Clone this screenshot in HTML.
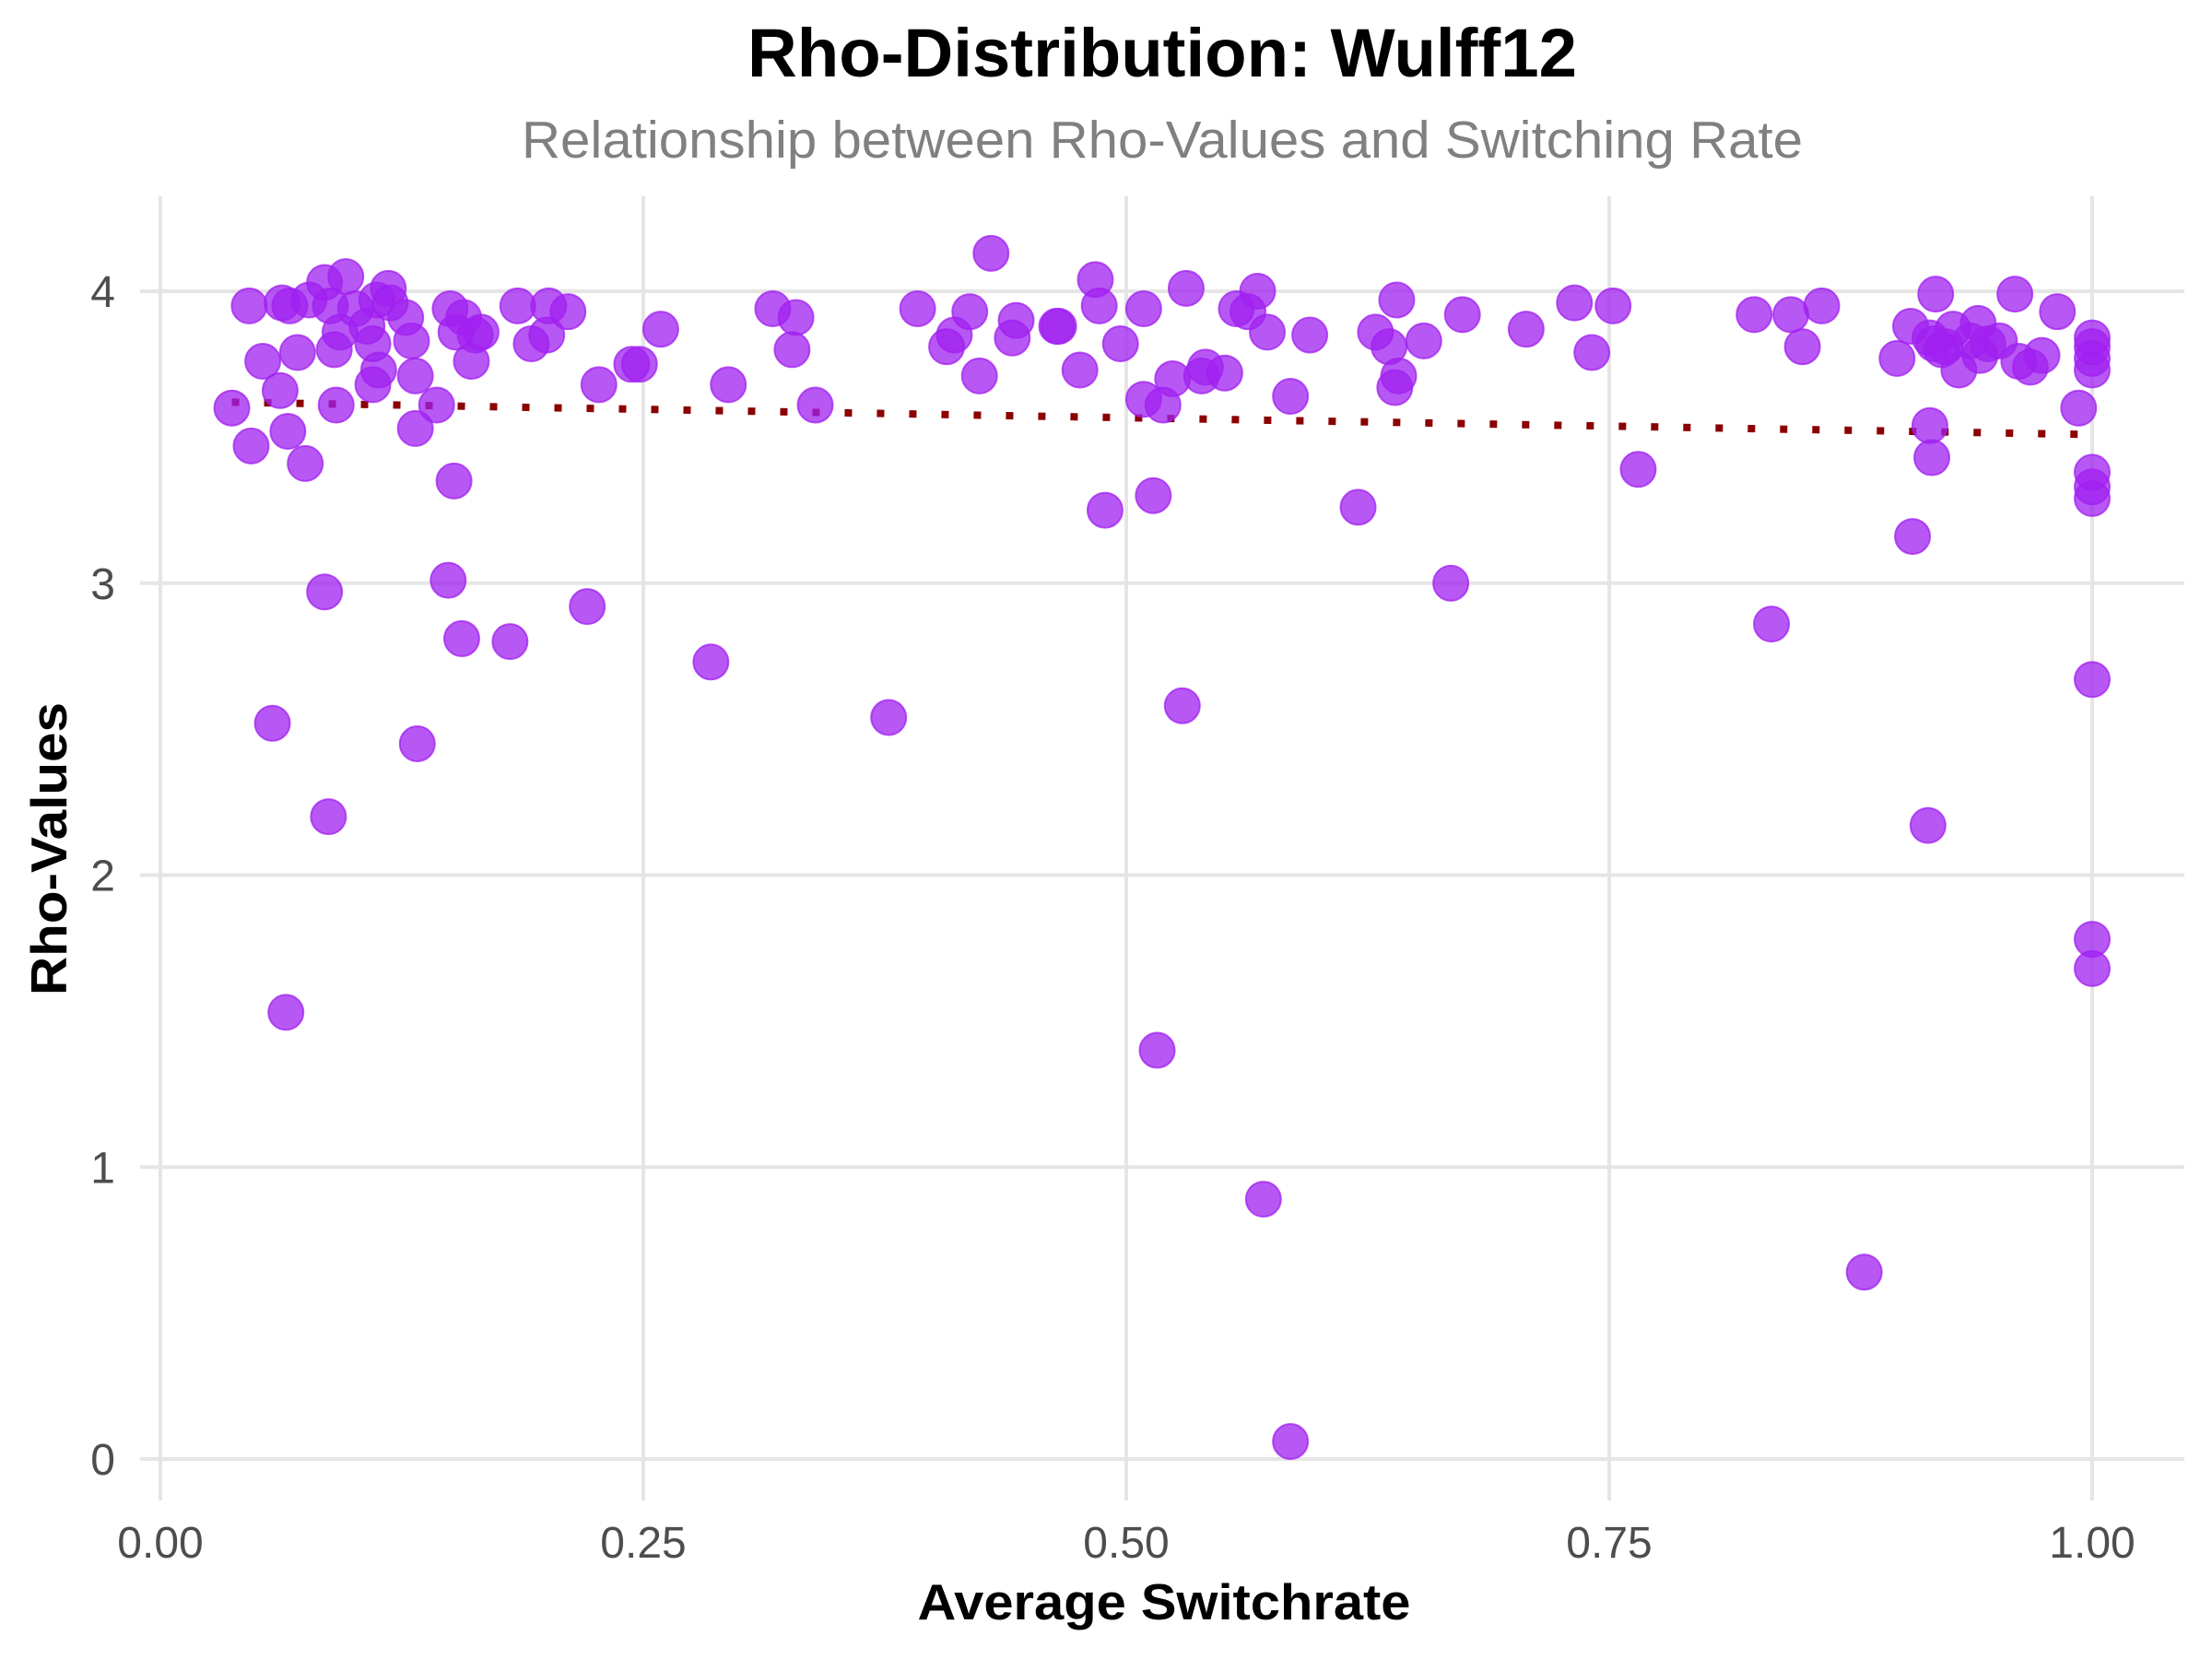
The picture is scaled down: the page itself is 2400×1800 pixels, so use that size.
<!DOCTYPE html>
<html><head><meta charset="utf-8"><style>
html,body{margin:0;padding:0;background:#fff;}
svg{display:block;font-family:"Liberation Sans",Arial,sans-serif;}
</style></head><body>
<svg id="chart" width="2400" height="1800" viewBox="0 0 2400 1800" xmlns="http://www.w3.org/2000/svg">
<rect width="2400" height="1800" fill="#fff"/>
<g id="grid"></g>
<g id="trend"></g>
<g id="points"></g>
<g id="axes"></g>
<text x="1261" y="83" text-anchor="middle" font-size="74" font-weight="bold" fill="#000" textLength="900" lengthAdjust="spacingAndGlyphs">Rho-Distribution: Wulff12</text>
<text x="1261" y="171" text-anchor="middle" font-size="57" fill="#808080" textLength="1390" lengthAdjust="spacingAndGlyphs">Relationship between Rho-Values and Switching Rate</text>
<text x="1263" y="1757" text-anchor="middle" font-size="55" font-weight="bold" fill="#000" textLength="535" lengthAdjust="spacingAndGlyphs">Average Switchrate</text>
<text transform="translate(72,921) rotate(-90)" text-anchor="middle" font-size="55" font-weight="bold" fill="#000" textLength="318" lengthAdjust="spacingAndGlyphs">Rho-Values</text>
</svg>
<script>
const xTicks = [0, 0.25, 0.5, 0.75, 1.0];
const xTickLabels = ["0.00", "0.25", "0.50", "0.75", "1.00"];
const yTicks = [0, 1, 2, 3, 4];
const yTickLabels = ["0", "1", "2", "3", "4"];
const switchrate = [0.037,0.046,0.047,0.053,0.058,0.062,0.063,0.065,0.066,0.067,0.071,0.075,0.077,0.085,0.085,0.087,0.088,0.090,0.091,0.093,0.096,0.101,0.107,0.110,0.110,0.112,0.113,0.118,0.119,0.127,0.130,0.132,0.132,0.133,0.143,0.149,0.150,0.152,0.153,0.156,0.157,0.161,0.163,0.166,0.181,0.185,0.192,0.200,0.201,0.211,0.221,0.227,0.244,0.248,0.259,0.285,0.294,0.317,0.327,0.329,0.339,0.377,0.392,0.407,0.411,0.419,0.424,0.430,0.441,0.443,0.464,0.465,0.476,0.484,0.486,0.489,0.497,0.509,0.509,0.514,0.516,0.519,0.524,0.529,0.531,0.539,0.541,0.551,0.557,0.563,0.568,0.571,0.573,0.585,0.585,0.595,0.620,0.629,0.636,0.639,0.641,0.640,0.654,0.668,0.674,0.707,0.732,0.741,0.752,0.765,0.825,0.834,0.844,0.850,0.860,0.882,0.899,0.906,0.907,0.915,0.916,0.916,0.917,0.919,0.924,0.928,0.931,0.937,0.941,0.942,0.946,0.952,0.960,0.962,0.968,0.974,0.982,0.993,1.0,1.0,1.0,1.0,1.0,1.0,1.0,1.0,1.0,1.0,0.918,0.922];
const rhoValues = [3.60,3.95,3.47,3.76,2.52,3.66,3.96,1.53,3.52,3.95,3.79,3.41,3.97,2.97,4.03,2.20,3.95,3.80,3.61,3.86,4.05,3.94,3.88,3.68,3.82,3.97,3.73,4.01,3.96,3.91,3.83,3.53,3.71,2.45,3.61,3.01,3.94,3.35,3.86,2.81,3.91,3.76,3.85,3.86,2.80,3.95,3.82,3.85,3.95,3.93,2.92,3.68,3.75,3.75,3.87,2.73,3.68,3.94,3.80,3.91,3.61,2.54,3.94,3.81,3.85,3.93,3.71,4.13,3.84,3.90,3.88,3.88,3.73,4.04,3.95,3.25,3.82,3.94,3.63,3.30,1.40,3.61,3.70,2.58,4.01,3.71,3.74,3.72,3.94,3.93,4.00,0.89,3.86,3.64,0.06,3.85,3.26,3.86,3.81,3.67,3.71,3.97,3.83,3.00,3.92,3.87,3.96,3.79,3.95,3.39,3.92,2.86,3.92,3.81,3.95,0.64,3.77,3.88,3.16,2.17,3.84,3.54,3.43,3.99,3.81,3.87,3.73,3.83,3.89,3.78,3.82,3.83,3.99,3.76,3.74,3.78,3.93,3.60,3.84,3.81,3.77,3.73,3.38,3.33,3.29,2.67,1.78,1.68,3.82,3.80];
const trendX = [0.037, 0.993];
const trendY = [3.62, 3.51];

const NS = "http://www.w3.org/2000/svg";
const X0 = 174, X1 = 2270, Y0 = 1583, Y4 = 316;
function sx(v){ return X0 + v * (X1 - X0); }
function sy(v){ return Y0 - v * (Y0 - Y4) / 4; }
function mk(tag, attrs, parent){ const e = document.createElementNS(NS, tag); for (const k in attrs) e.setAttribute(k, attrs[k]); parent.appendChild(e); return e; }

const grid = document.getElementById('grid');
const axes = document.getElementById('axes');
xTicks.forEach((t, i) => {
  const l = mk('line', {x1: sx(t), x2: sx(t), y1: 213, y2: 1628, stroke: '#e5e5e5', 'stroke-width': 4}, grid);
  
  
  const tx = mk('text', {x: sx(t), y: 1690, 'text-anchor': 'middle', 'font-size': 48, fill: '#4d4d4d'}, axes);
  tx.textContent = xTickLabels[i];
  
  
});
yTicks.forEach((t, i) => {
  const l = mk('line', {x1: 152, x2: 2370, y1: sy(t), y2: sy(t), stroke: '#e5e5e5', 'stroke-width': 4}, grid);
  
  
  const tx = mk('text', {x: 125, y: sy(t) + 17, 'text-anchor': 'end', 'font-size': 48, fill: '#4d4d4d'}, axes);
  tx.textContent = yTickLabels[i];
  
  
});

const pts = document.getElementById('points');
switchrate.forEach((v, i) => {
  const c = mk('circle', {cx: sx(v), cy: sy(rhoValues[i]), r: 19, fill: 'rgba(160,32,240,0.75)', stroke: 'rgba(160,32,240,0.75)', 'stroke-width': 2}, pts);
  
  
});

const tl = mk('line', {x1: sx(trendX[0]), y1: sy(trendY[0]), x2: sx(trendX[1]), y2: sy(trendY[1]), stroke: '#8b0000', 'stroke-width': 8, 'stroke-dasharray': '8 27'}, document.getElementById('trend'));


</script>
</body></html>
